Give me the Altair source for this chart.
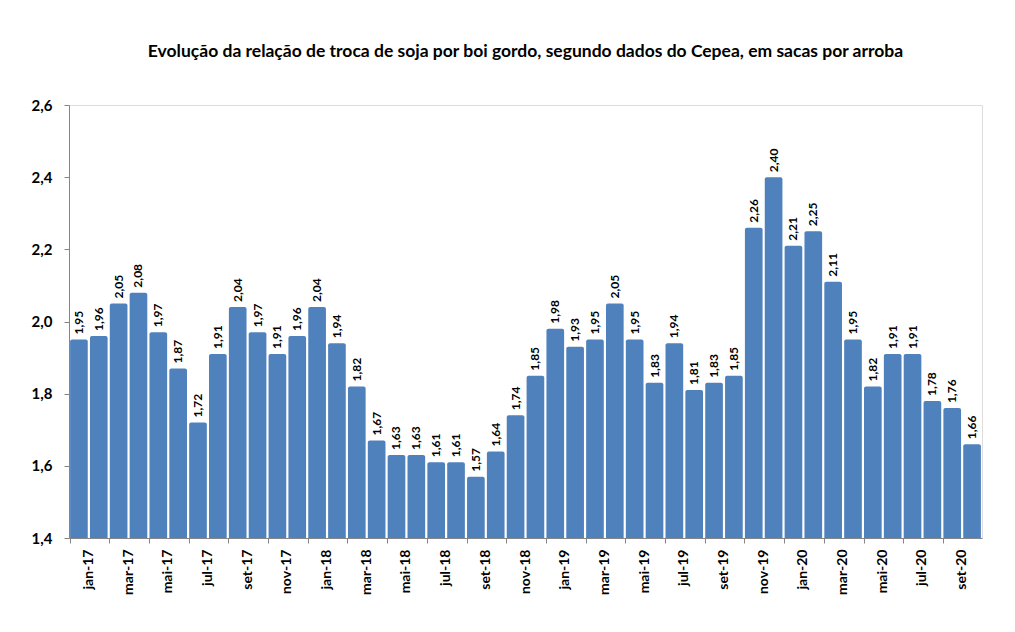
import altair as alt
import pandas as pd

months = ["jan", "fev", "mar", "abr", "mai", "jun", "jul", "ago", "set", "out", "nov", "dez"]
years = ["17", "18", "19", "20"]
categories = [f"{m}-{y}" for y in years for m in months][:46]

values = [
    1.95, 1.96, 2.05, 2.08, 1.97, 1.87, 1.72, 1.91, 2.04, 1.97, 1.91, 1.96,
    2.04, 1.94, 1.82, 1.67, 1.63, 1.63, 1.61, 1.61, 1.57, 1.64, 1.74, 1.85,
    1.98, 1.93, 1.95, 2.05, 1.95, 1.83, 1.94, 1.81, 1.83, 1.85, 2.26, 2.40,
    2.21, 2.25, 2.11, 1.95, 1.82, 1.91, 1.91, 1.78, 1.76, 1.66,
]
labels = [f"{v:.2f}".replace(".", ",") for v in values]
baseline = 1.4

df = pd.DataFrame({"mes": categories, "valor": values, "rotulo": labels})

FONT = "Lato"
W, H = 913, 433
step = W / 46.0

x_enc = alt.X(
    "mes:N",
    sort=categories,
    title=None,
    scale=alt.Scale(paddingInner=0.11, paddingOuter=0.055),
    axis=alt.Axis(
        values=categories[::2],
        bandPosition=0,
        labelOffset=step / 2,
        labelAngle=270,
        labelAlign="right",
        labelBaseline="middle",
        labelFont=FONT,
        labelFontSize=14,
        labelFontWeight="bold",
        labelColor="#000000",
        labelPadding=6,
        domainColor="#868686",
        tickColor="#868686",
        tickSize=5,
        grid=False,
    ),
)

y_enc = alt.Y(
    "valor:Q",
    title=None,
    scale=alt.Scale(domain=[1.4, 2.6], nice=False, zero=False),
    axis=alt.Axis(
        values=[1.4, 1.6, 1.8, 2.0, 2.2, 2.4, 2.6],
        labelExpr="replace(format(datum.value, '.1f'), '.', ',')",
        labelFont=FONT,
        labelFontSize=15,
        labelFontWeight="bold",
        labelColor="#000000",
        labelPadding=12,
        domainColor="#868686",
        tickColor="#868686",
        tickSize=5,
        grid=False,
    ),
)

bars = alt.Chart(df).mark_bar(
    color="#4F81BD", cornerRadiusTopLeft=2, cornerRadiusTopRight=2
).encode(x=x_enc, y=y_enc, y2=alt.datum(baseline))

text = alt.Chart(df).mark_text(
    angle=270, align="left", baseline="middle", dx=5,
    font=FONT, fontSize=12, fontWeight="bold", color="#000000",
).encode(x=alt.X("mes:N", sort=categories), y="valor:Q", text="rotulo:N")

chart = alt.layer(bars, text).properties(
    width=W,
    height=H,
    autosize=alt.AutoSizeParams(type="none"),
    padding={"left": 61, "top": 97, "right": 24, "bottom": 80},
    title=alt.TitleParams(
        "Evolução da relação de troca de soja por boi gordo, segundo dados do Cepea, em sacas por arroba",
        font=FONT, fontSize=17.5, fontWeight="bold", color="#000000",
        anchor="middle", offset=38,
    ),
).configure_view(stroke=None).configure(background="white")

chart.save("out.html", embed_options={"renderer": "svg", "actions": False})
